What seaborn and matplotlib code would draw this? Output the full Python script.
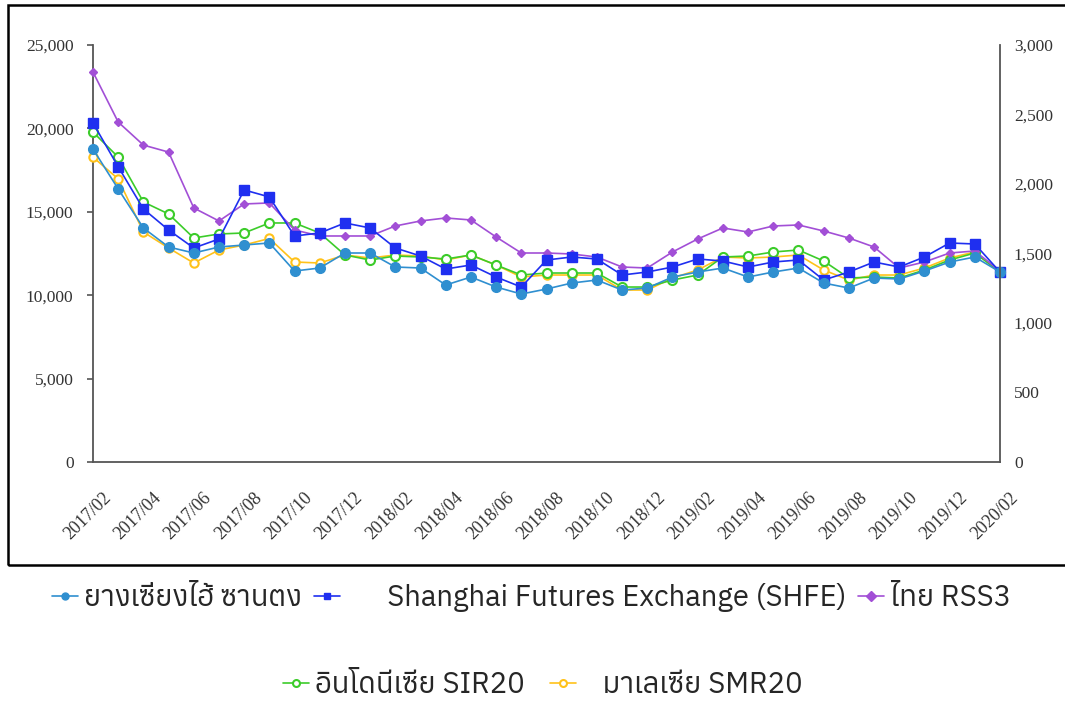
import matplotlib
matplotlib.use('Agg')
from matplotlib import pyplot as plt
from matplotlib.patches import Rectangle
from matplotlib.lines import Line2D
import matplotlib.transforms as mtransforms
import numpy as np
import pandas as pd
import seaborn as sns

# ---- datos ----
months = ['2017/02', '2017/03', '2017/04', '2017/05', '2017/06', '2017/07', '2017/08',
          '2017/09', '2017/10', '2017/11', '2017/12', '2018/01', '2018/02', '2018/03',
          '2018/04', '2018/05', '2018/06', '2018/07', '2018/08', '2018/09', '2018/10',
          '2018/11', '2018/12', '2019/01', '2019/02', '2019/03', '2019/04', '2019/05',
          '2019/06', '2019/07', '2019/08', '2019/09', '2019/10', '2019/11', '2019/12',
          '2020/01', '2020/02']

sanantong = [18760, 16370, 14030, 12890, 12530, 12890, 13010, 13130, 11450, 11630, 12530,
             12530, 11690, 11630, 10610, 11090, 10490, 10070, 10370, 10730, 10910, 10310,
             10430, 11090, 11390, 11630, 11090, 11390, 11630, 10730, 10430, 11030, 10970,
             11450, 11990, 12290, 11390]
shfe = [20320, 17700, 15170, 13910, 12830, 13370, 16310, 15890, 13550, 13730, 14330,
        14030, 12830, 12350, 11570, 11810, 11090, 10490, 12110, 12290, 12170, 11210,
        11390, 11690, 12170, 12050, 11690, 11990, 12110, 10910, 11390, 11990, 11690,
        12290, 13130, 13070, 11390]
rss3 = [23380, 20380, 19000, 18580, 15230, 14450, 15470, 15530, 13910, 13550, 13550,
        13550, 14150, 14450, 14630, 14510, 13490, 12530, 12530, 12470, 12290, 11690,
        11630, 12590, 13370, 14030, 13790, 14150, 14210, 13850, 13430, 12890, 11630,
        11990, 12530, 12650, 11450]
sir20 = [19780, 18280, 15590, 14870, 13430, 13670, 13730, 14330, 14330, 13730, 12410,
         12110, 12350, 12290, 12170, 12410, 11810, 11210, 11330, 11330, 11330, 10490,
         10490, 10910, 11210, 12290, 12350, 12590, 12710, 12050, 11030, 11090, 11030,
         11510, 12110, 12530, 11390]
smr20 = [18280, 16970, 13790, 12830, 11930, 12710, 13010, 13400, 11990, 11930, 12410,
         12230, 12410, 12350, 12110, 12410, 11810, 11090, 11210, 11210, 11210, 10310,
         10310, 11030, 11510, 12290, 12230, 12290, 12410, 11510, 10910, 11210, 11210,
         11630, 12230, 12590, 11390]

names = ['ยางเซี่ยงไฮ้ ซานตง', '      Shanghai Futures Exchange (SHFE)', 'ไทย RSS3',
         'อินโดนีเซีย SIR20', '   มาเลเซีย SMR20']
colors = ['#2f8fd0', '#1f2ff0', '#a24fd6', '#3ccc2a', '#ffc21a']

sns.set_theme(style='white')
plt.rcParams['font.family'] = ['Anuphan', 'DejaVu Sans']

df = pd.DataFrame({'x': np.arange(len(months)), 'ซานตง': sanantong, 'SHFE': shfe,
                   'RSS3': rss3, 'SIR20': sir20, 'SMR20': smr20})

fig = plt.figure(figsize=(10.65, 7.05), dpi=100)
ax = fig.add_axes([93 / 1065, 1 - 462 / 705, 907 / 1065, 417 / 705])

styles = {
    'ซานตง': dict(marker='o', ms=7, mfc=colors[0], mec=colors[0], mew=1),
    'SHFE': dict(marker='s', ms=7, mfc=colors[1], mec=colors[1], mew=1),
    'RSS3': dict(marker='D', ms=4.5, mfc=colors[2], mec=colors[2], mew=1),
    'SIR20': dict(marker='o', ms=6.5, mfc='white', mec=colors[3], mew=1.5),
    'SMR20': dict(marker='o', ms=6, mfc='white', mec=colors[4], mew=1.5),
}
order = ['SMR20', 'SIR20', 'RSS3', 'SHFE', 'ซานตง']
cmap = dict(zip(['ซานตง', 'SHFE', 'RSS3', 'SIR20', 'SMR20'], colors))
for z, key in enumerate(order):
    sns.lineplot(data=df, x='x', y=key, ax=ax, color=cmap[key], lw=1.2,
                 clip_on=False, zorder=3 + z, errorbar=None, **styles[key])

ax.set_xlim(0, len(months) - 1)
ax.set_ylim(0, 25000)
ax.set_yticks(np.arange(0, 25001, 5000))
ax.set_yticklabels([f'{v:,}' for v in range(0, 25001, 5000)])
ax.set_xticks(np.arange(0, len(months), 2))
ax.set_xticklabels(months[::2], rotation=45, ha='right', va='center',
                   rotation_mode='anchor')
ax.set_xlabel('')
ax.set_ylabel('')

ax2 = ax.twinx()
ax2.set_ylim(0, 3000)
ax2.set_yticks(np.arange(0, 3001, 500))
ax2.set_yticklabels([f'{v:,}' for v in range(0, 3001, 500)])

for a in (ax, ax2):
    for s in a.spines.values():
        s.set_visible(False)
    a.tick_params(labelsize=12.5, colors='#333333', length=0)
    for lab in a.get_xticklabels() + a.get_yticklabels():
        lab.set_family('Liberation Serif')
for lab in ax.get_xticklabels():
    lab.set_fontsize(13)
ax.spines['left'].set_visible(True)
ax.spines['bottom'].set_visible(True)
ax2.spines['right'].set_visible(True)
for s in (ax.spines['left'], ax.spines['bottom'], ax2.spines['right']):
    s.set_color('#555555')
    s.set_linewidth(1.3)
ax.tick_params(axis='x', length=5, width=1.2, color='#555555', pad=2)
ax.tick_params(axis='y', length=4, width=1.2, color='#555555', pad=10)
ax2.tick_params(axis='y', length=0, pad=10)

# desplazar etiquetas del eje x (despues de tick_params)
off = mtransforms.ScaledTranslation(11 / 72, -17 / 72, fig.dpi_scale_trans)
for lab in ax.get_xticklabels():
    lab.set_transform(lab.get_transform() + off)

# marco
fig.patches.append(Rectangle((8 / 1065, 1 - 565 / 705), 1.1, 560 / 705,
                             transform=fig.transFigure, fill=False,
                             edgecolor='black', lw=1.8))

# leyenda
handles = [Line2D([], [], color=colors[i], lw=1.2, **dict(list(styles.values())[i], ms=5))
           for i in range(5)]
leg_kw = dict(frameon=False, fontsize=21, handlelength=0.9, handletextpad=0.2,
              borderpad=0, borderaxespad=0)
fig.legend(handles[:3], names[:3], loc='center left', bbox_to_anchor=(52 / 1065, 1 - 598 / 705),
           ncol=3, columnspacing=0.4, **leg_kw)
fig.legend(handles[3:], names[3:], loc='center left', bbox_to_anchor=(283 / 1065, 1 - 685 / 705),
           ncol=2, columnspacing=0.85, **leg_kw)

fig.savefig('out.png', dpi=100)
